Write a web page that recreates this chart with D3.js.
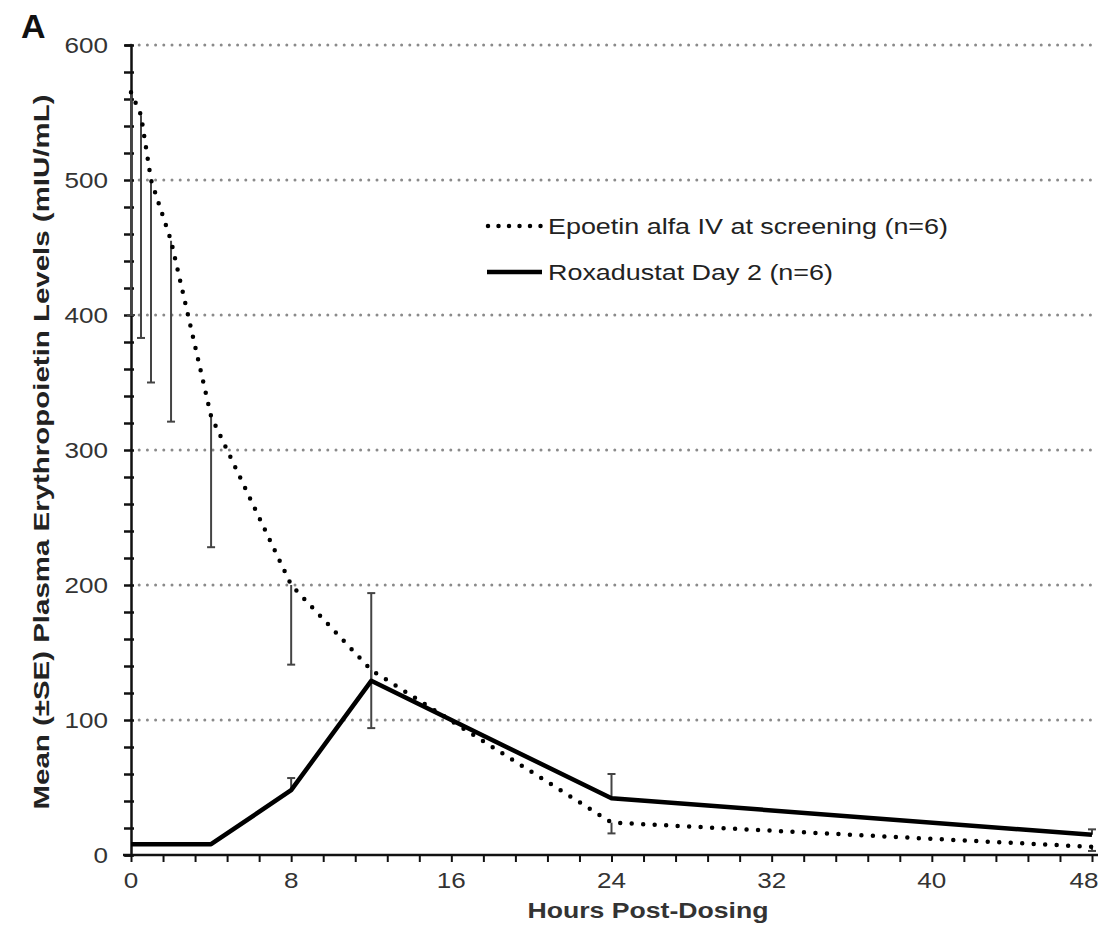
<!DOCTYPE html>
<html>
<head>
<meta charset="utf-8">
<script src="https://cdn.jsdelivr.net/npm/d3@7"></script>
<style>
  body { margin: 0; background: #fff; }
  svg { font-family: "Liberation Sans", Arial, sans-serif; }
</style>
</head>
<body>
<svg width="1104" height="928"></svg>
<script>
// data
const epoetinHours = [0, 0.5, 1, 2, 4, 8, 12, 24, 48];
const epoetinMean  = [565, 548, 500, 455, 325, 200, 137, 24, 6];
const epoetinLow   = [400, 383, 350, 321, 228, 141, 94, 16, 3];

const roxHours = [0, 4, 8, 12, 24, 48];
const roxMean  = [8, 8, 48, 129, 42, 15];
const roxHigh  = [null, null, 57, 194, 60, 19];

const xTicks = [0, 8, 16, 24, 32, 40, 48];
const yTicks = [0, 100, 200, 300, 400, 500, 600];

const seriesNames = ["Epoetin alfa IV at screening (n=6)", "Roxadustat Day 2 (n=6)"];

const svg = d3.select('svg');

const x = d3.scaleLinear().domain([0, 48]).range([131, 1092]);
const y = d3.scaleLinear().domain([0, 600]).range([855, 45]);

// grid
svg.append('g')
    .selectAll('line')
    .data(yTicks.slice(1))
    .enter().append('line')
    .attr('x1', x(0)).attr('x2', 1098)
    .attr('y1', d => y(d)).attr('y2', d => y(d))
    .attr('stroke', '#8a8a8a')
    .attr('stroke-width', 3)
    .attr('stroke-dasharray', '0,8.2')
    .attr('stroke-linecap', 'round');

// y axis
const yAxis = svg.append('g')
    .attr('transform', `translate(${x(0)},0)`)
    .call(d3.axisLeft(y).tickValues(d3.range(0, 601, 20)).tickSize(6).tickFormat(''));
yAxis.select('.domain').attr('stroke', '#111').attr('stroke-width', 2.5);
yAxis.selectAll('.tick line').attr('x2', -7).attr('x1', 3).attr('stroke', '#111').attr('stroke-width', 2.5);

svg.append('g')
    .selectAll('text')
    .data(yTicks)
    .enter().append('text')
    .attr('x', 108)
    .attr('y', d => y(d) + 8)
    .attr('text-anchor', 'end')
    .attr('font-size', 22)
    .attr('fill', '#333')
    .attr('textLength', d => String(d).length * 14.5)
    .attr('lengthAdjust', 'spacingAndGlyphs')
    .text(d => d);

// x axis
const xAxis = svg.append('g')
    .attr('transform', `translate(0,${y(0)})`)
    .call(d3.axisBottom(x).tickValues(d3.range(0, 48.01, 1.6)).tickSize(7).tickFormat(''));
xAxis.select('.domain').attr('stroke', '#111').attr('stroke-width', 2.5).attr('d', `M${x(0) - 8},0H1098`);
xAxis.selectAll('.tick line').attr('stroke', '#111').attr('stroke-width', 2);

svg.append('g')
    .selectAll('text')
    .data(xTicks)
    .enter().append('text')
    .attr('x', d => Math.min(x(d), 1084))
    .attr('y', 888)
    .attr('text-anchor', 'middle')
    .attr('font-size', 22)
    .attr('fill', '#333')
    .attr('textLength', d => String(d).length * 14.5)
    .attr('lengthAdjust', 'spacingAndGlyphs')
    .text(d => d);

// titles
svg.append('text')
    .attr('x', 648).attr('y', 918)
    .attr('text-anchor', 'middle')
    .attr('font-size', 22).attr('font-weight', 'bold').attr('fill', '#333')
    .attr('textLength', 241).attr('lengthAdjust', 'spacingAndGlyphs')
    .text('Hours Post-Dosing');

svg.append('text')
    .attr('transform', 'translate(49,452) rotate(-90)')
    .attr('text-anchor', 'middle')
    .attr('font-size', 22).attr('font-weight', 'bold').attr('fill', '#222')
    .attr('textLength', 715).attr('lengthAdjust', 'spacingAndGlyphs')
    .text('Mean (\u00b1SE) Plasma Erythropoietin Levels (mIU/mL)');

svg.append('text')
    .attr('x', 21).attr('y', 38)
    .attr('font-size', 34).attr('font-weight', 'bold').attr('fill', '#111')
    .text('A');

// error bars
const epo = epoetinHours.map((h, i) => ({ h, m: epoetinMean[i], e: epoetinLow[i] }));
const rox = roxHours.map((h, i) => ({ h, m: roxMean[i], e: roxHigh[i] }));
const bars = epo.concat(rox.filter(d => d.e !== null));

const eb = svg.append('g').attr('stroke', '#444').attr('stroke-width', 2);
eb.selectAll('line.v')
    .data(bars)
    .enter().append('line')
    .attr('x1', d => x(d.h)).attr('x2', d => x(d.h))
    .attr('y1', d => y(d.m)).attr('y2', d => y(d.e));
eb.selectAll('line.c')
    .data(bars)
    .enter().append('line')
    .attr('x1', d => x(d.h) - 4).attr('x2', d => x(d.h) + 4)
    .attr('y1', d => y(d.e)).attr('y2', d => y(d.e));

// lines
const line = d3.line().x(d => x(d.h)).y(d => y(d.m));

svg.append('path')
    .datum(rox)
    .attr('d', line)
    .attr('fill', 'none')
    .attr('stroke', '#000')
    .attr('stroke-width', 4.5)
    .attr('stroke-linejoin', 'round');

svg.append('path')
    .datum(epo)
    .attr('d', line)
    .attr('fill', 'none')
    .attr('stroke', '#000')
    .attr('stroke-width', 4.5)
    .attr('stroke-dasharray', '0,11.5')
    .attr('stroke-linecap', 'round');

// legend
const legend = svg.append('g');
legend.append('line')
    .attr('x1', 488).attr('x2', 541).attr('y1', 226).attr('y2', 226)
    .attr('stroke', '#000').attr('stroke-width', 4.5)
    .attr('stroke-dasharray', '0,10.5').attr('stroke-linecap', 'round');
legend.append('line')
    .attr('x1', 487).attr('x2', 542).attr('y1', 272).attr('y2', 272)
    .attr('stroke', '#000').attr('stroke-width', 4.5);
legend.selectAll('text')
    .data(seriesNames)
    .enter().append('text')
    .attr('x', 548)
    .attr('y', (d, i) => 234 + i * 46)
    .attr('font-size', 22)
    .attr('fill', '#222')
    .attr('textLength', (d, i) => i === 0 ? 400 : 285)
    .attr('lengthAdjust', 'spacingAndGlyphs')
    .text(d => d);
</script>
</body>
</html>
